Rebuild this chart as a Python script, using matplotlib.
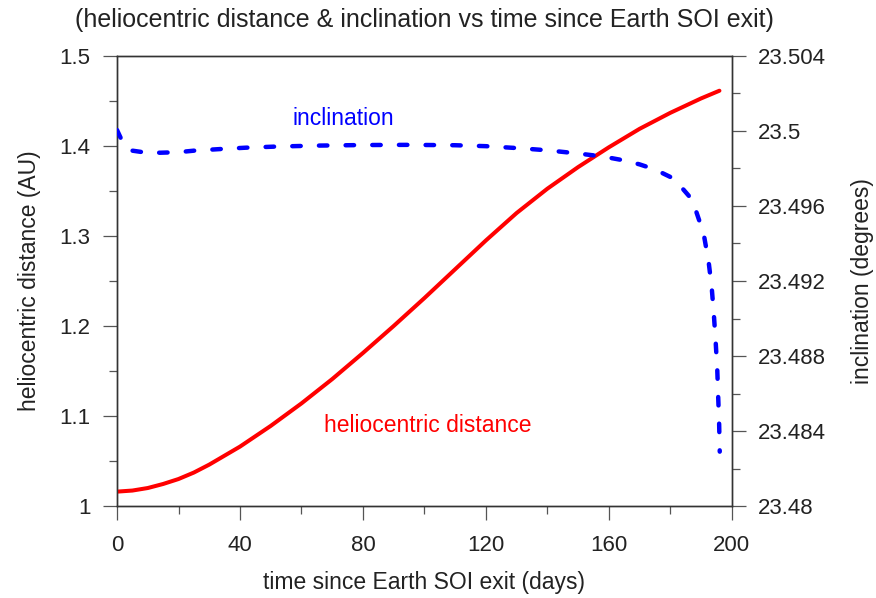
import matplotlib
matplotlib.use("Agg")
import matplotlib.pyplot as plt
from matplotlib.ticker import MultipleLocator, FuncFormatter

plt.rcParams['font.family'] = ['Liberation Sans', 'DejaVu Sans']

# heliocentric distance (AU) vs days since Earth SOI exit
t_dist = [0, 5, 10, 15, 20, 25, 30, 40, 50, 60, 70, 80, 90, 100, 110, 120,
          130, 140, 150, 160, 170, 180, 190, 196]
dist = [1.0160, 1.0172, 1.0200, 1.0245, 1.0300, 1.0372, 1.0460, 1.0660,
        1.0890, 1.1140, 1.1410, 1.1700, 1.2000, 1.2310, 1.2630, 1.2950,
        1.3255, 1.3525, 1.3765, 1.3985, 1.4190, 1.4368, 1.4528, 1.4614]

# orbital inclination (degrees) vs days since Earth SOI exit
t_inc = [0, 1.5, 3, 5, 8, 14, 20, 25, 34, 42, 52, 65, 80, 95, 110, 120, 131,
         140, 150, 158, 165, 170, 175, 180, 183, 186, 188, 190, 191, 192.5,
         193.5, 194.2, 194.8, 195.3, 195.6, 195.9, 196.1]
inc = [23.50005, 23.49952, 23.49915, 23.49895, 23.49888, 23.49884, 23.49887,
       23.49895, 23.49904, 23.49911, 23.49917, 23.49922, 23.49925, 23.49926,
       23.49924, 23.49919, 23.49908, 23.49897, 23.49880, 23.49864, 23.49843,
       23.49822, 23.49795, 23.49755, 23.49712, 23.49655, 23.49592, 23.49495,
       23.49440, 23.49301, 23.49163, 23.49019, 23.48869, 23.48725, 23.48581,
       23.48443, 23.48290]

x_ticks = [0, 40, 80, 120, 160, 200]
left_ticks = [1, 1.1, 1.2, 1.3, 1.4, 1.5]
right_ticks = [23.48, 23.484, 23.488, 23.492, 23.496, 23.5, 23.504]

fig = plt.figure(figsize=(8.76, 5.98), dpi=100)
ax_left, ax_right, ax_bottom, ax_top = 0.1336, 0.8353, 0.1538, 0.9064
ax = fig.add_axes([ax_left, ax_bottom, ax_right - ax_left, ax_top - ax_bottom])
ax2 = ax.twinx()

ax.plot(t_dist, dist, color='#ff0000', lw=2.9, solid_capstyle='round',
        solid_joinstyle='round', zorder=3)
line, = ax2.plot(t_inc, inc, color='#0000ff', lw=3.2,
                 dash_capstyle='round', zorder=3)
line.set_dashes((1.9, 4.1))

ax.set_xlim(0, 200)
ax.set_ylim(1, 1.5)
ax2.set_ylim(23.48, 23.504)

ax.set_xticks(x_ticks)
ax.set_yticks(left_ticks)
ax2.set_yticks(right_ticks)
ax.xaxis.set_minor_locator(MultipleLocator(20))
ax.yaxis.set_minor_locator(MultipleLocator(0.05))
ax2.yaxis.set_minor_locator(MultipleLocator(0.002))


def fmt(v, pos):
    return ('%.3f' % v).rstrip('0').rstrip('.')


ax.xaxis.set_major_formatter(FuncFormatter(fmt))
ax.yaxis.set_major_formatter(FuncFormatter(fmt))
ax2.yaxis.set_major_formatter(FuncFormatter(fmt))

tick_fs = 16
label_fs = 16.5
text_col = '#222222'
for a in (ax, ax2):
    for sp in a.spines.values():
        sp.set_color('#333333')
        sp.set_linewidth(1.0)
    a.tick_params(which='major', length=10, width=0.9, color='#555555',
                  labelsize=tick_fs, labelcolor=text_col)
    a.tick_params(which='minor', length=6, width=0.9, color='#555555')
ax.tick_params(axis='x', which='major', pad=11)
ax.tick_params(axis='y', which='major', pad=9)
ax2.tick_params(axis='y', which='major', pad=9)

ax.set_xlabel('time since Earth SOI exit (days)', fontsize=label_fs,
              color=text_col, labelpad=11)
ax.set_ylabel('heliocentric distance (AU)', fontsize=label_fs,
              color=text_col, labelpad=13)
ax2.set_ylabel('inclination (degrees)', fontsize=label_fs,
               color=text_col, labelpad=18)

ax.text(73.5, 1.43, 'inclination', color='#0000ff', fontsize=label_fs,
        ha='center', va='center')
ax.text(101.1, 1.089, 'heliocentric distance', color='#ff0000',
        fontsize=label_fs, ha='center', va='center')

fig.text((ax_left + ax_right) / 2, 1 - 20 / 598,
         '(heliocentric distance & inclination vs time since Earth SOI exit)',
         ha='center', va='center', fontsize=18, color=text_col)

fig.savefig('out.png', dpi=100)
